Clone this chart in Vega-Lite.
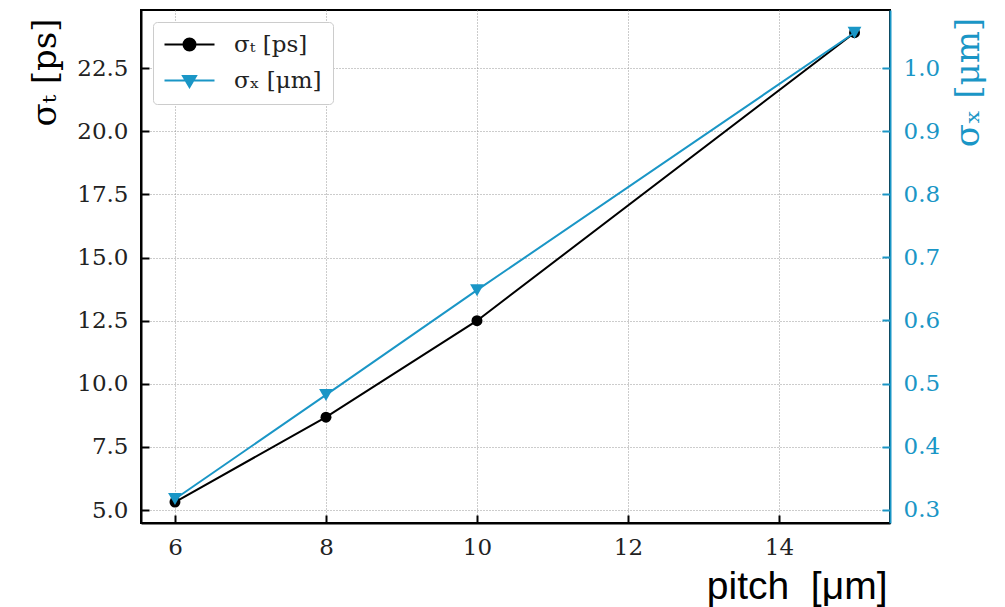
{
  "$schema": "https://vega.github.io/schema/vega-lite/v6.json",
  "autosize": {"type": "none"},
  "padding": {"left": 141, "top": 10, "right": 115, "bottom": 84},
  "width": 749,
  "height": 513,
  "background": "white",
  "config": {
    "view": {"stroke": "black", "strokeWidth": 2},
    "axis": {
      "labelFont": "DejaVu Serif",
      "labelFontSize": 23,
      "labelColor": "#222222",
      "titleFontWeight": "normal",
      "gridDash": [1, 2],
      "gridColor": "#999999",
      "gridWidth": 1,
      "domainWidth": 2,
      "tickWidth": 2,
      "tickSize": -8
    }
  },
  "data": {
    "values": [
      {"pitch": 6, "sigma_t": 5.32, "sigma_x": 0.317},
      {"pitch": 8, "sigma_t": 8.68, "sigma_x": 0.482},
      {"pitch": 10, "sigma_t": 12.5, "sigma_x": 0.648},
      {"pitch": 15, "sigma_t": 23.9, "sigma_x": 1.056}
    ]
  },
  "encoding": {
    "x": {
      "field": "pitch",
      "type": "quantitative",
      "scale": {"domain": [5.55, 15.47], "nice": false, "zero": false},
      "axis": {
        "values": [6, 8, 10, 12, 14],
        "grid": true,
        "domainColor": "black",
        "tickColor": "black",
        "labelPadding": 21,
        "title": "pitch\u00a0\u00a0[μm]",
        "titleFont": "Liberation Sans",
        "titleFontSize": 39,
        "titleColor": "black",
        "titleAnchor": "end",
        "titleAlign": "right",
        "titleBaseline": "alphabetic",
        "titleX": 746,
        "titleY": 75
      }
    }
  },
  "layer": [
    {
      "encoding": {
        "y": {
          "field": "sigma_t",
          "type": "quantitative",
          "scale": {"domain": [4.49, 24.8], "nice": false, "zero": false},
          "axis": {
            "orient": "left",
            "values": [5, 7.5, 10, 12.5, 15, 17.5, 20, 22.5],
            "format": ".1f",
            "grid": true,
            "domainColor": "black",
            "tickColor": "black",
            "labelPadding": 21,
            "title": "σₜ [ps]",
            "titleFont": "DejaVu Serif",
            "titleFontSize": 34,
            "titleColor": "black",
            "titleAngle": -90,
            "titleAlign": "center",
            "titleBaseline": "alphabetic",
            "titleX": -86,
            "titleY": 62
          }
        },
        "color": {
          "datum": "σₜ [ps]",
          "scale": {"domain": ["σₜ [ps]", "σₓ [μm]"], "range": ["black", "#1a96c6"]},
          "legend": {
            "title": null,
            "orient": "none",
            "legendX": 12,
            "legendY": 12,
            "padding": 11,
            "fillColor": "white",
            "strokeColor": "#cccccc",
            "cornerRadius": 4,
            "labelFont": "DejaVu Serif",
            "labelFontSize": 23,
            "labelColor": "#222222",
            "symbolSize": 400,
            "symbolStrokeWidth": 2,
            "symbolOffset": 14,
            "labelOffset": 33,
            "rowPadding": 12,
            "encode": {
              "symbols": {
                "update": {
                  "shape": {"signal": "datum.index == 0 ? 'M-2.5,0L2.5,0M0.6,0A0.6,0.6,0,1,1,-0.6,0A0.6,0.6,0,1,1,0.6,0' : 'M-2.5,0L2.5,0M-0.65,-0.45L0.65,-0.45L0,0.65Z'"},
                  "fill": {"signal": "datum.index == 0 ? 'black' : '#1a96c6'"},
                  "stroke": {"signal": "datum.index == 0 ? 'black' : '#1a96c6'"},
                  "strokeWidth": {"value": 2},
                  "opacity": {"value": 1}
                }
              }
            }
          }
        }
      },
      "layer": [
        {"mark": {"type": "line", "strokeWidth": 2}},
        {"mark": {"type": "point", "shape": "circle", "filled": true, "size": 120, "opacity": 1}}
      ]
    },
    {
      "encoding": {
        "y": {
          "field": "sigma_x",
          "type": "quantitative",
          "scale": {"domain": [0.279, 1.092], "nice": false, "zero": false},
          "axis": {
            "orient": "right",
            "values": [0.3, 0.4, 0.5, 0.6, 0.7, 0.8, 0.9, 1.0],
            "format": ".1f",
            "grid": false,
            "domainColor": "#1a96c6",
            "tickColor": "#1a96c6",
            "labelColor": "#1a96c6",
            "labelPadding": 21,
            "title": "σₓ [μm]",
            "titleFont": "DejaVu Serif",
            "titleFontSize": 34,
            "titleColor": "#1a96c6",
            "titleAngle": -90,
            "titleAlign": "center",
            "titleBaseline": "alphabetic",
            "titleX": 88,
            "titleY": 72
          }
        },
        "color": {"datum": "σₓ [μm]"}
      },
      "layer": [
        {"mark": {"type": "line", "strokeWidth": 2}},
        {"mark": {"type": "point", "shape": "triangle-down", "filled": true, "size": 190, "opacity": 1}}
      ]
    }
  ],
  "resolve": {"scale": {"y": "independent"}}
}
